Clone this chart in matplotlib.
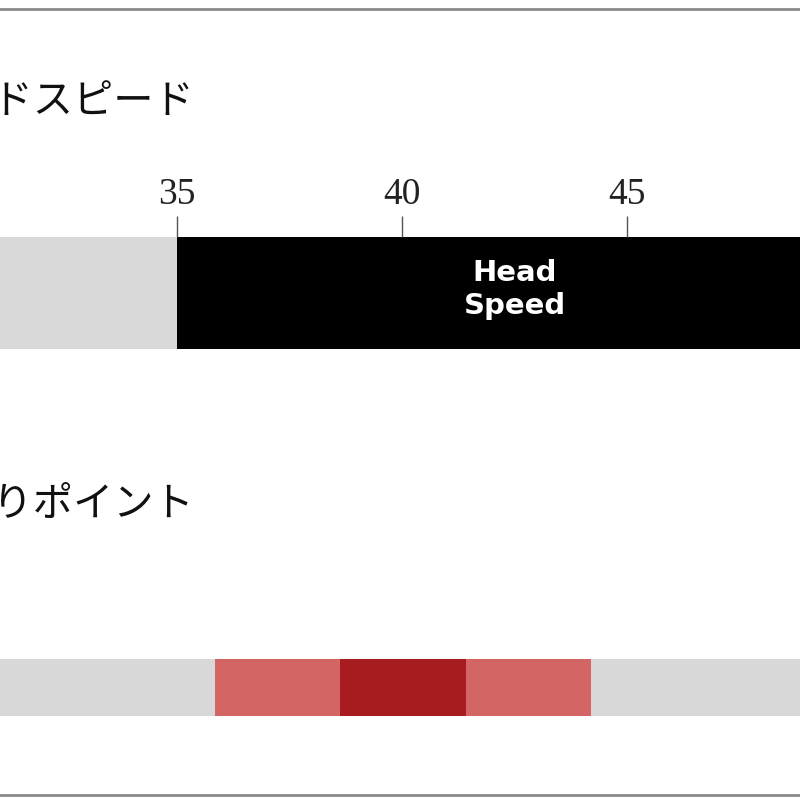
import matplotlib.pyplot as plt
from matplotlib.lines import Line2D

# head speed scale (m/s)
speed_ticks = [35, 40, 45]
speed_low = 30          # grey part starts off-picture
speed_min = 35          # recommended range
speed_max = 50
speed_label = "Head\nSpeed"

# kick point segments, 0 = none, 1 = partly, 2 = main
kick_levels = [0, 0, 1, 2, 1, 0, 0]
kick_colors = {0: "#d8d8d8", 1: "#d46565", 2: "#a61c1f"}

title_speed = "ヘッドスピード"
title_kick = "しなりポイント"

plt.rcParams['font.family'] = ['Noto Sans CJK JP', 'DejaVu Sans']

fig = plt.figure(figsize=(8, 8), dpi=100)

# top bar: head speed
ax1 = fig.add_axes([0, 1 - 349/800, 1, 112/800])
ax1.barh(0, speed_min - speed_low, left=speed_low, height=1, color="#d9d9d9")
ax1.barh(0, speed_max - speed_min, left=speed_min, height=1, color="black")
ax1.text((speed_min + speed_max) / 2, 0.03, speed_label, color="white", ha="center",
         va="center", fontsize=21, fontweight="bold", family="DejaVu Sans",
         linespacing=1.25)
ax1.set_xlim(35 - 177/45, 35 + 623/45)
ax1.set_ylim(-0.5, 0.5)
ax1.xaxis.tick_top()
ax1.set_xticks(speed_ticks)
ax1.set_xticklabels([str(t) for t in speed_ticks], family="Liberation Serif",
                    fontsize=27, color="#222222")
ax1.tick_params(axis="x", length=15, width=1, color="#555555", pad=3)
ax1.set_yticks([])
for s in ax1.spines.values():
    s.set_visible(False)

# bottom bar: kick point
ax2 = fig.add_axes([0, 1 - 716/800, 1, 57/800])
for i, lv in enumerate(kick_levels):
    ax2.barh(0, 1, left=i, height=1, color=kick_colors[lv])
ax2.set_xlim(2 - 215/125.3, 2 + 585/125.3)
ax2.set_ylim(-0.5, 0.5)
ax2.axis("off")

# titles, cut at the left like the source
fig.text(194/800, 1 - 101/800, title_speed, ha="right", va="center", fontsize=29,
         color="#111111")
fig.text(194/800, 1 - 504/800, title_kick, ha="right", va="center", fontsize=29,
         color="#111111")

# frame lines
fig.add_artist(Line2D([0, 1], [1 - 9/800] * 2, color="#8a8a8a", lw=2))
fig.add_artist(Line2D([0, 1], [1 - 795/800] * 2, color="#8a8a8a", lw=2))

fig.savefig("out.png", dpi=100)
